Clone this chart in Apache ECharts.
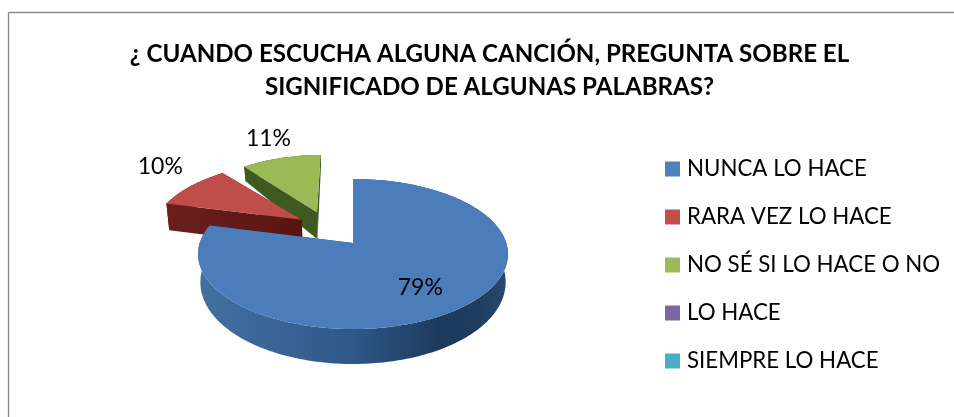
<!DOCTYPE html>
<html><head><meta charset="utf-8">
<style>html,body{margin:0;padding:0;background:#fff}#c{width:954px;height:417px}</style>
<script src="https://cdn.jsdelivr.net/npm/echarts@6/dist/echarts.min.js"></script>
</head><body><div id="c"></div>
<script>
const categories = ['NUNCA LO HACE','RARA VEZ LO HACE','NO SÉ SI LO HACE O NO','LO HACE','SIEMPRE LO HACE'];
const values = [79,10,11,0,0];
const colors = ['#4f81bd','#c0504d','#9bbb59','#8064a2','#4bacc6'];
const titleText = '¿ CUANDO ESCUCHA ALGUNA CANCIÓN, PREGUNTA SOBRE EL\nSIGNIFICADO DE ALGUNAS PALABRAS?';

// 3D projection of the disc
const X0=353, Y0=243, B=153.3, A=73.4, P=0.1467, EXPLODE=0.24;
const topFill = ['#4a7dba','#bf4d4a','#9aba57'];
const drawOrder = [4,3,2];
const labelRadial = [0.67,1,1];
const labelShift = [[-1,2],[-30,-21],[-12,-21]];
const sliceNudge = [[0,0],[0,-1],[-3,-2]];
const sliceScaleX = [1,1,0.91];

const total = values.reduce((a,b)=>a+b,0);
let acc=0;
const spans = values.map(v=>{const s=acc/total*2*Math.PI; acc+=v; return [s,acc/total*2*Math.PI];});
const dir = a=>[Math.sin(a),-Math.cos(a)];
const mid = i=>(spans[i][0]+spans[i][1])/2;
const blueDir = dir(mid(0));
const centre = [-EXPLODE*blueDir[0],-EXPLODE*blueDir[1]];
const origin = i=>{const d=dir(mid(i));return [centre[0]+EXPLODE*d[0],centre[1]+EXPLODE*d[1]];};
const proj = (U,V)=>{const k=1-P*V;return [X0+B*U/k,Y0+A*V/k];};
const depth = V=>V>=0?27+8*V:(V>=-0.55?27:27+20*(V+0.55));
const down = (U,V)=>{const p=proj(U,V);return [X0+(p[0]-X0)*0.985,p[1]+depth(V)];};

function arc(i){
  const o=origin(i),pts=[],n=Math.max(4,Math.ceil((spans[i][1]-spans[i][0])/0.02));
  for(let k=0;k<=n;k++){
    const a=spans[i][0]+(spans[i][1]-spans[i][0])*k/n,d=dir(a);
    pts.push([o[0]+d[0],o[1]+d[1]]);
  }
  return pts;
}
function renderSlice(i){
  return function(params,api){
    const v=api.value(0);
    if(!v) return {type:'group',children:[]};
    const o=origin(i),rim=arc(i);
    const first=rim[0],last=rim[rim.length-1];
    const kids=[];
    const band=(a,b)=>[...a.map(p=>proj(p[0],p[1])),...b.slice().reverse().map(p=>down(p[0],p[1]))];
    let wallFill,cutFill;
    if(i===0){
      wallFill=new echarts.graphic.LinearGradient(0,0,1,0,[
        {offset:0,color:'#41709f'},{offset:0.25,color:'#3a6596'},{offset:0.5,color:'#2f5787'},
        {offset:0.78,color:'#1d3a5c'},{offset:0.9,color:'#1f3d5e'},{offset:1,color:'#274a70'}]);
      cutFill='#274a70';
    } else if(i===1){
      wallFill='#5c1a18';
      cutFill=new echarts.graphic.LinearGradient(0,0,1,0,[{offset:0,color:'#6a1f1d'},{offset:1,color:'#581412'}]);
    } else {
      wallFill='#3f5a20';
      cutFill='#3f5a20';
    }
    kids.push({type:'polygon',shape:{points:band([last,o],[last,o])},style:{fill:cutFill}});
    kids.push({type:'polygon',shape:{points:band(rim,rim)},style:{fill:wallFill}});
    kids.push({type:'polygon',shape:{points:band([o,first],[o,first])},style:{fill:cutFill}});
    const apex=proj(o[0],o[1]);
    kids.push({type:'polygon',shape:{points:[apex,...rim.map(p=>proj(p[0],p[1]))]},style:{fill:topFill[i]}});
    const d=dir(mid(i)),r=labelRadial[i];
    const lp=proj(o[0]+d[0]*r,o[1]+d[1]*r);
    return {type:'group',children:[
      {type:'group',x:sliceNudge[i][0],y:sliceNudge[i][1],originX:apex[0],originY:apex[1],scaleX:sliceScaleX[i],children:kids},
      {type:'text',x:lp[0]+labelShift[i][0],y:lp[1]+labelShift[i][1],z2:10,style:{
        text:Math.round(v/total*100)+'%',fontFamily:'Lato',fontSize:23,fill:'#000',align:'center',verticalAlign:'middle'}}
    ]};
  };
}
const series=categories.map((name,i)=>({
  type:'custom',name,coordinateSystem:'none',z:drawOrder[i],silent:true,animation:false,clip:false,
  itemStyle:{color:colors[i]},
  renderItem:renderSlice(i),
  data:[[values[i]]]
}));
const chart=echarts.init(document.getElementById('c'),null,{renderer:'canvas'});
chart.setOption({
  animation:false,
  backgroundColor:'#fff',
  title:{text:titleText,left:484.5,textAlign:'center',top:33,
    textStyle:{fontFamily:'Lato',fontWeight:'bold',fontSize:24.1,color:'#000',lineHeight:33}},
  legend:{orient:'vertical',left:665,top:158,padding:0,icon:'rect',itemWidth:15,itemHeight:15,itemGap:26,
    data:categories,selectedMode:false,
    textStyle:{fontFamily:'Lato',fontSize:22.3,color:'#000',padding:[0,0,0,2],lineHeight:18}},
  graphic:[
    {type:'line',shape:{x1:8.5,y1:12.5,x2:954,y2:12.5},style:{stroke:'#868686',lineWidth:1.3}},
    {type:'line',shape:{x1:8.5,y1:12.5,x2:8.5,y2:417},style:{stroke:'#868686',lineWidth:1.3}}
  ],
  series
});
</script></body></html>
